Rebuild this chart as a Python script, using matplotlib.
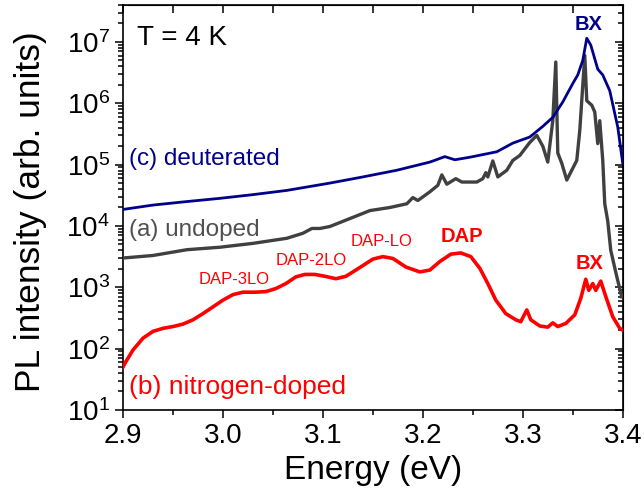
import matplotlib
matplotlib.use('Agg')
import matplotlib.pyplot as plt
import numpy as np

plt.rcParams['font.family'] = ['Liberation Sans', 'DejaVu Sans']
plt.rcParams['mathtext.default'] = 'regular'

# ---- data (energy in eV, PL intensity) ----
e_deut = [2.900, 2.930, 2.964, 2.997, 3.030, 3.064, 3.107, 3.140, 3.174, 3.207,
          3.222, 3.232, 3.247, 3.274, 3.290, 3.307, 3.320, 3.330, 3.340, 3.350,
          3.355, 3.360, 3.364, 3.368, 3.375, 3.380, 3.387, 3.395, 3.400]
i_deut = [1.86e4, 2.19e4, 2.5e4, 2.82e4, 3.24e4, 3.8e4, 5.0e4, 6.3e4, 8.1e4, 1.10e5,
          1.35e5, 1.20e5, 1.32e5, 1.62e5, 2.24e5, 2.82e5, 4.2e5, 5.9e5, 1.05e6, 2.1e6,
          2.9e6, 5.0e6, 1.15e7, 8.9e6, 3.6e6, 2.9e6, 1.6e6, 4.1e5, 1.05e5]

e_undoped = [2.900, 2.930, 2.964, 2.997, 3.030, 3.064, 3.080, 3.089, 3.097, 3.107,
             3.127, 3.147, 3.167, 3.184, 3.190, 3.195, 3.207, 3.215, 3.219, 3.224,
             3.233, 3.239, 3.254, 3.260, 3.263, 3.265, 3.270, 3.275, 3.284, 3.290,
             3.297, 3.307, 3.314, 3.320, 3.325, 3.330, 3.333, 3.335, 3.339, 3.344,
             3.354, 3.357, 3.362, 3.364, 3.369, 3.372, 3.375, 3.377, 3.380, 3.382,
             3.385, 3.388, 3.394, 3.399]
i_undoped = [3.0e3, 3.3e3, 4.1e3, 4.5e3, 5.2e3, 6.3e3, 7.6e3, 9.1e3, 9.1e3, 9.8e3,
             1.32e4, 1.78e4, 2.0e4, 2.3e4, 2.9e4, 2.6e4, 3.6e4, 4.6e4, 6.8e4, 4.8e4,
             5.9e4, 5.2e4, 5.2e4, 5.9e4, 7.4e4, 6.3e4, 1.15e5, 6.3e4, 8.1e4, 1.17e5,
             1.41e5, 2.3e5, 3.0e5, 2.0e5, 1.1e5, 5.2e5, 4.7e6, 1.55e5, 1.05e5, 5.6e4,
             1.17e5, 3.6e5, 6.0e6, 1.1e6, 9.3e5, 7.2e5, 2.2e5, 5.2e5, 1.17e5, 2.3e4,
             1.2e4, 4.0e3, 1.5e3, 7.0e2]

e_ndoped = [2.900, 2.902, 2.910, 2.920, 2.930, 2.940, 2.950, 2.960, 2.970, 2.980,
            2.990, 3.000, 3.010, 3.020, 3.033, 3.043, 3.053, 3.063, 3.073, 3.082,
            3.092, 3.102, 3.113, 3.123, 3.133, 3.150, 3.160, 3.170, 3.183, 3.197,
            3.207, 3.217, 3.228, 3.238, 3.248, 3.257, 3.265, 3.273, 3.283, 3.293,
            3.298, 3.304, 3.308, 3.317, 3.325, 3.330, 3.335, 3.343, 3.352, 3.358,
            3.363, 3.366, 3.370, 3.373, 3.378, 3.383, 3.390, 3.397, 3.400]
i_ndoped = [50, 58, 95, 148, 191, 214, 229, 251, 295, 372,
            479, 617, 759, 832, 832, 851, 955, 1150, 1480, 1620,
            1620, 1510, 1380, 1510, 1910, 2880, 3160, 2950, 2140, 1780,
            1910, 2630, 3470, 3630, 3160, 2040, 1150, 617, 372, 295,
            275, 427, 295, 234, 224, 263, 229, 257, 355, 661,
            1350, 891, 1150, 891, 1260, 708, 331, 214, 200]

fig = plt.figure(figsize=(6.44, 5.03), dpi=100)
ax = fig.add_axes([0.191, 0.185, 0.776, 0.805])

ax.plot(e_ndoped, i_ndoped, color='#FF0000', lw=2.6, zorder=3)
ax.plot(e_undoped, i_undoped, color='#404040', lw=2.4, zorder=3)
ax.plot(e_deut, i_deut, color='#00008B', lw=2.0, zorder=4)

ax.set_yscale('log')
ax.set_xlim(2.9, 3.4)
ax.set_ylim(10, 4e7)
ax.set_xticks([2.9, 3.0, 3.1, 3.2, 3.3, 3.4])
ax.set_xticklabels(['2.9', '3.0', '3.1', '3.2', '3.3', '3.4'])
ax.set_xticks(np.arange(2.95, 3.4, 0.1), minor=True)
ax.set_yticks([1e1, 1e2, 1e3, 1e4, 1e5, 1e6, 1e7])

ax.tick_params(which='both', direction='out', labelsize=20, width=1.1)
ax.tick_params(which='major', length=6)
ax.tick_params(which='minor', length=3.5)
for s in ax.spines.values():
    s.set_linewidth(1.2)

# mirrored ticks pointing inward on top/right
top = ax.secondary_xaxis('top')
top.set_xticks([2.9, 3.0, 3.1, 3.2, 3.3, 3.4])
top.set_xticks(np.arange(2.95, 3.4, 0.1), minor=True)
top.tick_params(which='both', direction='in', labeltop=False, length=6, width=1.1)
right = ax.secondary_yaxis('right')
right.set_yticks([1e1, 1e2, 1e3, 1e4, 1e5, 1e6, 1e7])
right.tick_params(which='both', direction='in', labelright=False, width=1.1)
right.tick_params(which='major', length=6)
right.tick_params(which='minor', length=3.5)

ax.set_xlabel('Energy (eV)', fontsize=24, labelpad=4)
ax.set_ylabel('PL intensity (arb. units)', fontsize=25.5)
ax.yaxis.set_label_coords(-0.152, 0.49)

# annotations
ax.text(2.914, 1.15e7, 'T = 4 K', fontsize=20, va='center', ha='left')
ax.text(2.906, 1.25e5, '(c) deuterated', fontsize=17.5, color='#00008B', va='center')
ax.text(2.906, 8.5e3, '(a) undoped', fontsize=17.5, color='#505050', va='center')
ax.text(2.906, 24, '(b) nitrogen-doped', fontsize=19, color='#FF0000', va='center')
ax.text(3.011, 1.35e3, 'DAP-3LO', fontsize=12, color='#FF0000', ha='center', va='center')
ax.text(3.088, 2.75e3, 'DAP-2LO', fontsize=12, color='#FF0000', ha='center', va='center')
ax.text(3.159, 5.5e3, 'DAP-LO', fontsize=12, color='#FF0000', ha='center', va='center')
ax.text(3.239, 6.8e3, 'DAP', fontsize=14.5, color='#FF0000', fontweight='bold',
        ha='center', va='center')
ax.text(3.366, 1.95e7, 'BX', fontsize=14.5, color='#00008B', fontweight='bold',
        ha='center', va='center')
ax.text(3.367, 2.4e3, 'BX', fontsize=14.5, color='#FF0000', fontweight='bold',
        ha='center', va='center')

fig.savefig('out.png', dpi=100, facecolor='white')
